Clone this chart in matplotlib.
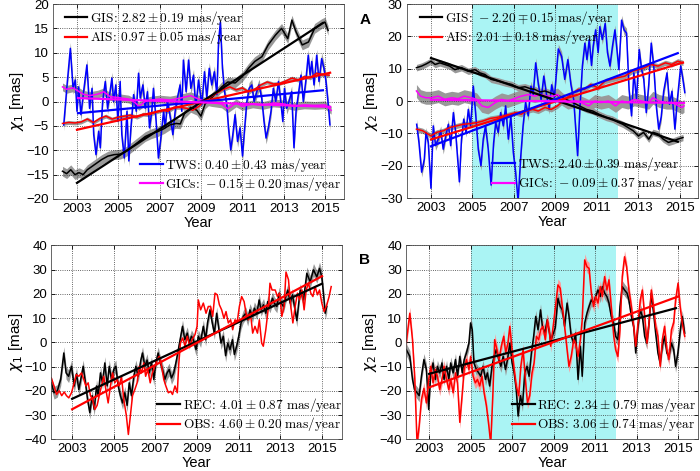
import matplotlib.pyplot as plt

plt.rcParams['font.family'] = ['Liberation Sans', 'DejaVu Sans']
plt.rcParams['mathtext.fontset'] = 'cm'

# ---------------- data (year, value) ----------------
# panel 1: chi1 contributions
gis1 = [(2002.3, -14.3), (2002.5, -14.8), (2002.7, -14.0), (2002.9, -15.0), (2003.1, -14.6),
        (2003.3, -15.0), (2003.5, -14.0), (2003.7, -13.4), (2003.9, -12.8), (2004.2, -11.9),
        (2004.5, -11.2), (2004.8, -10.9), (2005.1, -10.8), (2005.4, -10.2), (2005.7, -9.2),
        (2006.0, -8.2), (2006.3, -7.2), (2006.6, -6.6), (2006.9, -6.2), (2007.2, -5.6),
        (2007.5, -4.8), (2007.8, -4.5), (2008.0, -4.6), (2008.2, -2.5), (2008.5, -1.2),
        (2008.8, -1.8), (2009.0, -3.0), (2009.2, -0.5), (2009.5, 0.7), (2009.8, 2.0),
        (2010.0, 3.0), (2010.3, 4.0), (2010.65, 3.8), (2011.0, 5.1), (2011.3, 6.8),
        (2011.6, 8.2), (2011.95, 9.2), (2012.25, 11.6), (2012.6, 13.6), (2012.9, 15.0),
        (2013.2, 12.9), (2013.4, 16.7), (2013.6, 14.3), (2013.9, 11.6), (2014.2, 12.2),
        (2014.5, 15.0), (2014.85, 16.0), (2015.0, 16.3), (2015.15, 14.6)]
ais1 = [(2002.3, -4.5), (2002.6, -4.3), (2002.9, -4.4), (2003.2, -4.2), (2003.5, -3.6),
        (2003.8, -4.3), (2004.1, -3.5), (2004.4, -3.0), (2004.7, -3.6), (2005.0, -3.2),
        (2005.3, -3.0), (2005.6, -2.8), (2005.9, -3.2), (2006.2, -2.6), (2006.5, -2.7),
        (2006.8, -2.2), (2007.1, -1.8), (2007.4, -2.0), (2007.7, -1.2), (2008.0, -1.2),
        (2008.3, -1.4), (2008.6, -1.8), (2008.9, -1.0), (2009.2, 0.3), (2009.5, 1.0),
        (2009.8, 1.8), (2010.1, 2.5), (2010.4, 3.0), (2010.7, 2.4), (2011.0, 2.8),
        (2011.3, 2.0), (2011.6, 2.5), (2011.9, 3.4), (2012.2, 4.0), (2012.5, 3.6),
        (2012.8, 3.7), (2013.1, 4.2), (2013.4, 4.8), (2013.7, 4.4), (2014.0, 5.1),
        (2014.3, 4.9), (2014.6, 5.8), (2014.9, 5.5), (2015.2, 5.4)]
tws1 = [(2002.36, -4.8), (2002.52, 3.4), (2002.68, 10.9), (2002.81, 2.7), (2002.92, 4.4),
        (2003.0, -2.0), (2003.08, 3.0), (2003.19, -2.7), (2003.32, 2.0), (2003.48, 7.5),
        (2003.61, -1.4), (2003.73, 2.7), (2003.81, -6.8), (2003.92, -10.9), (2004.05, -6.1),
        (2004.13, -9.5), (2004.24, 0.0), (2004.37, 4.1), (2004.48, -1.4), (2004.58, 1.4),
        (2004.69, 4.8), (2004.77, 0.0), (2004.88, 3.4), (2004.98, -4.1), (2005.09, 4.1),
        (2005.17, -6.8), (2005.29, -11.6), (2005.42, -2.0), (2005.51, -12.2), (2005.61, -5.4),
        (2005.74, 1.4), (2005.87, -2.0), (2005.98, 5.8), (2006.06, 0.7), (2006.19, 3.4),
        (2006.3, -1.4), (2006.41, 2.0), (2006.51, -5.4), (2006.62, -2.0), (2006.7, 2.7),
        (2006.83, -4.1), (2006.94, -11.6), (2007.06, -7.5), (2007.19, -2.0), (2007.27, -5.4),
        (2007.38, 0.0), (2007.51, -3.1), (2007.64, -6.8), (2007.75, -2.0), (2007.86, 0.7),
        (2007.99, 3.4), (2008.07, -2.0), (2008.15, 8.5), (2008.28, 2.0), (2008.4, 8.5),
        (2008.51, 2.7), (2008.64, 5.4), (2008.75, -1.4), (2008.88, 4.4), (2009.04, -0.7),
        (2009.17, 6.1), (2009.28, 0.7), (2009.4, 6.8), (2009.52, 3.4), (2009.65, 6.1),
        (2009.77, 1.4), (2009.85, 12.2), (2009.94, 16.3), (2010.04, 6.8), (2010.14, 2.0),
        (2010.25, -0.7), (2010.33, -5.4), (2010.44, -9.9), (2010.54, -6.8), (2010.65, -2.7),
        (2010.77, -8.2), (2010.89, -5.4), (2011.01, -11.2), (2011.1, -6.1), (2011.22, 0.0),
        (2011.33, 2.7), (2011.46, 3.4), (2011.57, 0.0), (2011.7, 2.0), (2011.81, 3.4),
        (2011.94, 0.7), (2012.05, -4.1), (2012.15, -7.5), (2012.26, -5.4), (2012.39, -2.0),
        (2012.5, 2.7), (2012.62, 0.0), (2012.75, 4.1), (2012.86, 0.0), (2012.96, -4.1),
        (2013.04, 2.7), (2013.15, -1.4), (2013.26, 0.0), (2013.39, 2.0), (2013.5, -9.5),
        (2013.6, -2.0), (2013.71, 1.4), (2013.84, 5.4), (2013.95, 0.0), (2014.07, 4.1),
        (2014.19, 9.5), (2014.28, 5.4), (2014.36, 8.2), (2014.47, 3.4), (2014.6, 9.5),
        (2014.71, 4.1), (2014.84, 8.8), (2014.95, 6.8), (2015.05, 4.1), (2015.16, -0.7),
        (2015.24, -4.8)]
gic1 = [(2002.3, 3.0), (2002.5, 2.5), (2002.8, 2.8), (2003.0, 2.3), (2003.3, 1.5),
        (2003.6, 1.2), (2004.0, 1.5), (2004.3, 2.0), (2004.6, 1.0), (2005.0, 0.8),
        (2005.5, 0.5), (2005.8, -0.2), (2006.0, -1.0), (2006.3, 0.0), (2006.6, 0.3),
        (2007.0, 0.5), (2007.5, 0.3), (2008.0, 0.7), (2008.5, 1.2), (2009.0, 0.3),
        (2009.5, -0.2), (2010.0, -0.5), (2010.3, -1.5), (2010.7, -0.3), (2011.0, -1.0),
        (2011.5, -0.5), (2012.0, -0.8), (2012.5, -0.3), (2013.0, -0.5), (2013.5, -1.0),
        (2014.0, -0.7), (2014.5, -0.8), (2015.0, -0.7), (2015.3, -1.8)]

# panel 2: chi2 contributions
gis2 = [(2002.3, 10.3), (2002.55, 10.8), (2002.78, 11.5), (2003.0, 12.3), (2003.2, 11.3),
        (2003.43, 11.8), (2003.67, 11.3), (2003.9, 10.8), (2004.15, 9.7), (2004.47, 10.3),
        (2004.8, 9.2), (2005.12, 9.7), (2005.36, 8.7), (2005.6, 8.2), (2005.9, 6.7),
        (2006.24, 6.2), (2006.56, 5.6), (2006.9, 5.1), (2007.2, 4.1), (2007.53, 4.4),
        (2007.8, 3.8), (2008.0, 3.6), (2008.25, 2.8), (2008.5, 3.1), (2008.8, 2.4),
        (2009.2, 1.5), (2009.5, 0.5), (2009.85, -0.5), (2010.15, -1.5), (2010.5, -2.6),
        (2010.8, -3.1), (2011.1, -4.1), (2011.45, -5.1), (2011.75, -5.6), (2012.0, -6.5),
        (2012.25, -7.2), (2012.5, -8.2), (2012.75, -9.2), (2013.0, -10.8), (2013.25, -9.7),
        (2013.5, -11.8), (2013.7, -9.7), (2013.95, -10.2), (2014.2, -11.8), (2014.45, -12.8),
        (2014.7, -12.3), (2014.9, -11.8), (2015.15, -11.3)]
ais2 = [(2002.3, -8.7), (2002.6, -9.2), (2003.0, -10.8), (2003.27, -9.7), (2003.6, -9.2),
        (2003.9, -8.2), (2004.23, -7.7), (2004.55, -7.2), (2004.87, -7.0), (2005.2, -6.7),
        (2005.5, -6.2), (2005.85, -5.4), (2006.15, -5.1), (2006.5, -4.6), (2006.8, -4.1),
        (2007.1, -3.6), (2007.35, -4.1), (2007.6, -3.1), (2007.9, -2.6), (2008.17, -3.1),
        (2008.5, -2.0), (2008.8, -2.6), (2009.1, -1.5), (2009.45, 0.5), (2009.75, 2.0),
        (2010.1, 3.6), (2010.4, 3.6), (2010.7, 5.1), (2011.05, 4.1), (2011.4, 6.2),
        (2011.7, 6.7), (2012.0, 7.2), (2012.35, 7.7), (2012.7, 9.2), (2013.0, 9.7),
        (2013.3, 10.3), (2013.6, 11.3), (2013.95, 10.8), (2014.3, 11.8), (2014.6, 11.3),
        (2014.9, 12.3), (2015.15, 11.8)]
tws2 = [(2002.31, -7.2), (2002.42, -12.8), (2002.55, -22.0), (2002.68, -18.0), (2002.76, -9.7),
        (2002.87, -12.8), (2003.0, -27.0), (2003.11, -7.7), (2003.22, -13.8), (2003.35, -11.8),
        (2003.47, -9.2), (2003.59, -14.9), (2003.71, -10.8), (2003.84, -7.2), (2003.95, -13.8),
        (2004.08, -3.6), (2004.19, -9.7), (2004.37, -25.0), (2004.47, -12.0), (2004.58, -5.6),
        (2004.69, -9.7), (2004.8, -2.6), (2004.91, -7.7), (2005.04, 4.6), (2005.15, -3.6),
        (2005.28, -14.9), (2005.41, -20.0), (2005.52, -11.8), (2005.63, -7.7), (2005.76, -14.9),
        (2005.9, -26.0), (2006.02, -13.0), (2006.12, -6.7), (2006.24, -9.7), (2006.36, -3.6),
        (2006.49, -7.7), (2006.6, -1.5), (2006.73, -11.8), (2006.85, -4.6), (2006.97, -15.9),
        (2007.08, -22.0), (2007.2, -31.0), (2007.33, -17.0), (2007.44, -7.7), (2007.56, -0.5),
        (2007.69, -4.6), (2007.82, 4.6), (2007.93, 2.0), (2008.05, 11.8), (2008.18, 5.0),
        (2008.31, 0.5), (2008.44, 7.7), (2008.57, 2.0), (2008.7, -2.6), (2008.82, 5.0),
        (2008.95, 1.0), (2009.14, 16.1), (2009.3, 13.8), (2009.45, 6.7), (2009.6, 12.8),
        (2009.75, 5.0), (2009.88, 0.5), (2010.07, -16.9), (2010.18, -2.5), (2010.3, 10.8),
        (2010.42, 17.9), (2010.52, 12.8), (2010.63, 19.0), (2010.74, 11.0), (2010.82, 16.9),
        (2010.94, 22.0), (2011.06, 15.0), (2011.14, 23.0), (2011.26, 19.0), (2011.4, 24.0),
        (2011.51, 15.0), (2011.63, 10.8), (2011.75, 16.9), (2011.87, 22.0), (2011.95, 16.9),
        (2012.06, 9.7), (2012.19, 25.0), (2012.31, 22.0), (2012.43, 21.0), (2012.55, 3.6),
        (2012.67, -4.6), (2012.78, 8.7), (2012.91, 0.5), (2013.04, 15.9), (2013.15, 10.0),
        (2013.26, 6.7), (2013.38, -3.6), (2013.5, 5.0), (2013.62, 17.9), (2013.74, 10.8),
        (2013.87, -2.0), (2013.98, -8.7), (2014.1, -5.0), (2014.22, 3.0), (2014.38, 8.7),
        (2014.5, -1.0), (2014.62, 3.0), (2014.76, -8.7), (2014.88, 0.5), (2015.04, 10.8),
        (2015.14, 7.0), (2015.24, 2.6)]
gic2 = [(2002.3, 3.1), (2002.5, 1.5), (2002.75, 1.0), (2003.0, 1.0), (2003.35, 1.5),
        (2003.67, 0.5), (2004.0, 1.0), (2004.3, 0.7), (2004.6, 1.5), (2004.95, 1.0),
        (2005.2, 0.5), (2005.45, -1.5), (2005.75, -2.0), (2006.1, -0.5), (2006.4, 0.5),
        (2006.7, 0.0), (2007.0, 0.7), (2007.35, 1.5), (2007.7, 2.0), (2008.0, 1.5),
        (2008.3, 2.0), (2008.6, 1.5), (2008.9, 1.5), (2009.1, 2.0), (2009.35, 0.5),
        (2009.6, -0.5), (2009.95, 0.0), (2010.25, -0.5), (2010.6, -1.5), (2010.9, 0.0),
        (2011.2, -0.5), (2011.55, 0.0), (2011.9, -1.5), (2012.2, 0.0), (2012.5, -0.5),
        (2012.8, 0.5), (2013.15, 0.0), (2013.5, -0.5), (2013.7, 1.0), (2014.0, 0.0),
        (2014.35, -0.5), (2014.6, -0.5), (2014.8, -1.0), (2015.1, -2.0), (2015.2, -1.5)]

# panel 3: chi1 reconstructed vs observed
rec3 = [(2002.0, -16.7), (2002.13, -20.8), (2002.29, -20.0), (2002.45, -15.3), (2002.6, -4.4),
        (2002.71, -12.6), (2002.83, -14.0), (2002.97, -9.9), (2003.1, -18.0), (2003.21, -13.0),
        (2003.32, -19.5), (2003.42, -15.0), (2003.53, -9.9), (2003.64, -16.7), (2003.74, -23.6),
        (2003.85, -29.0), (2003.96, -22.0), (2004.06, -27.7), (2004.17, -18.0), (2004.25, -22.0),
        (2004.36, -12.6), (2004.46, -16.7), (2004.57, -8.5), (2004.68, -18.0), (2004.78, -9.9),
        (2004.89, -15.3), (2005.0, -11.2), (2005.1, -9.9), (2005.21, -18.0), (2005.32, -22.0),
        (2005.42, -25.0), (2005.53, -20.8), (2005.64, -26.0), (2005.74, -16.7), (2005.85, -22.0),
        (2005.96, -14.0), (2006.06, -9.9), (2006.17, -14.0), (2006.3, -7.3), (2006.38, -4.4),
        (2006.49, -9.9), (2006.6, -7.3), (2006.7, -12.6), (2006.81, -8.5), (2006.92, -15.3),
        (2007.02, -8.5), (2007.13, -4.4), (2007.24, -8.5), (2007.34, -11.2), (2007.45, -15.3),
        (2007.56, -12.6), (2007.66, -11.2), (2007.77, -14.7), (2007.88, -12.6), (2008.01, -7.3),
        (2008.1, -3.0), (2008.2, 1.8), (2008.3, 6.6), (2008.41, 1.1), (2008.53, 3.8),
        (2008.62, -0.3), (2008.73, 2.5), (2008.82, 1.1), (2008.95, -3.0), (2009.06, 2.5),
        (2009.17, 0.5), (2009.3, 6.6), (2009.41, 1.1), (2009.5, 8.0), (2009.62, 13.4),
        (2009.73, 8.0), (2009.83, 3.8), (2009.94, 12.0), (2010.05, 5.2), (2010.15, -0.3),
        (2010.26, 2.5), (2010.37, -5.5), (2010.47, -0.3), (2010.58, -3.0), (2010.7, 1.1),
        (2010.79, -5.0), (2010.9, -1.6), (2011.0, 2.5), (2011.11, 8.0), (2011.22, 10.7),
        (2011.34, 12.0), (2011.43, 9.3), (2011.54, 13.4), (2011.66, 10.7), (2011.75, 14.1),
        (2011.87, 12.0), (2011.98, 17.5), (2012.07, 13.4), (2012.19, 15.5), (2012.3, 12.0),
        (2012.39, 16.8), (2012.5, 14.8), (2012.62, 18.2), (2012.71, 16.2), (2012.83, 14.8),
        (2012.94, 20.3), (2013.03, 16.2), (2013.15, 14.8), (2013.26, 18.9), (2013.36, 21.6),
        (2013.47, 16.2), (2013.58, 19.6), (2013.79, 9.0), (2013.95, 21.6), (2014.11, 17.5),
        (2014.27, 28.5), (2014.43, 25.0), (2014.59, 29.9), (2014.75, 27.0), (2014.88, 30.5),
        (2014.99, 27.0), (2015.07, 20.0), (2015.15, 12.0), (2015.23, 14.8)]
obs3 = [(2002.0, -14.7), (2002.13, -18.0), (2002.25, -21.5), (2002.38, -20.0), (2002.5, -22.0),
        (2002.62, -20.5), (2002.73, -22.0), (2002.84, -22.9), (2002.97, -20.8), (2003.1, -16.7),
        (2003.2, -13.3), (2003.32, -14.0), (2003.45, -12.6), (2003.56, -15.3), (2003.66, -18.0),
        (2003.77, -16.7), (2003.88, -22.0), (2003.98, -23.6), (2004.09, -27.7), (2004.2, -26.0),
        (2004.3, -22.0), (2004.41, -18.0), (2004.52, -14.0), (2004.62, -19.5), (2004.73, -25.0),
        (2004.84, -18.0), (2004.94, -12.6), (2005.05, -16.7), (2005.16, -15.3), (2005.26, -18.0),
        (2005.37, -14.0), (2005.48, -23.6), (2005.6, -30.0), (2005.7, -38.0), (2005.8, -30.0),
        (2005.9, -22.0), (2006.01, -19.5), (2006.12, -16.7), (2006.22, -9.9), (2006.33, -12.6),
        (2006.44, -8.5), (2006.53, -14.0), (2006.63, -11.2), (2006.75, -16.7), (2006.85, -12.6),
        (2006.97, -9.9), (2007.09, -7.1), (2007.18, -5.8), (2007.3, -9.9), (2007.4, -15.3),
        (2007.5, -18.0), (2007.62, -20.8), (2007.73, -20.2), (2007.82, -21.5), (2007.94, -18.0),
        (2008.05, -20.8), (2008.12, -9.0), (2008.2, -0.3), (2008.31, 1.8), (2008.42, -1.6),
        (2008.53, 2.5), (2008.65, -1.6), (2008.76, 1.1), (2008.9, 3.2), (2009.0, 6.6),
        (2009.06, 17.5), (2009.17, 13.4), (2009.3, 16.2), (2009.43, 12.0), (2009.54, 14.8),
        (2009.65, 14.8), (2009.75, 10.7), (2009.86, 20.3), (2009.97, 19.6), (2010.07, 15.5),
        (2010.18, 13.4), (2010.29, 9.9), (2010.39, 12.7), (2010.5, 8.0), (2010.61, 9.3),
        (2010.71, 5.2), (2010.82, 9.3), (2010.93, 8.6), (2011.03, 14.8), (2011.14, 18.9),
        (2011.26, 16.8), (2011.35, 12.0), (2011.46, 9.3), (2011.58, 10.7), (2011.67, 3.8),
        (2011.78, 6.6), (2011.9, 3.8), (2011.99, 9.3), (2012.1, -0.3), (2012.18, -1.6),
        (2012.3, 5.2), (2012.43, 14.8), (2012.5, 24.4), (2012.6, 21.6), (2012.75, 21.6),
        (2012.86, 18.9), (2012.96, 20.3), (2013.07, 10.7), (2013.18, 14.8), (2013.27, 29.0),
        (2013.39, 25.8), (2013.5, 14.8), (2013.6, 8.0), (2013.71, 14.8), (2013.82, 20.3),
        (2013.92, 17.5), (2014.03, 21.6), (2014.14, 13.4), (2014.24, 21.6), (2014.35, 24.4),
        (2014.46, 20.3), (2014.56, 18.9), (2014.67, 23.0), (2014.78, 19.6), (2014.88, 21.6),
        (2014.99, 16.2), (2015.1, 12.7), (2015.23, 15.5), (2015.34, 18.9), (2015.44, 23.0)]

# panel 4: chi2 reconstructed vs observed
rec4 = [(2001.9, -3.0), (2002.07, -5.8), (2002.2, -15.3), (2002.3, -19.5), (2002.42, -20.8),
        (2002.52, -22.0), (2002.63, -14.0), (2002.75, -7.1), (2002.87, -11.2), (2002.98, -27.7),
        (2003.08, -12.6), (2003.19, -8.5), (2003.3, -15.3), (2003.4, -9.9), (2003.51, -12.6),
        (2003.62, -8.5), (2003.72, -15.3), (2003.84, -9.9), (2003.95, -15.3), (2004.04, -8.5),
        (2004.16, -12.6), (2004.27, -7.1), (2004.37, -14.0), (2004.48, -5.8), (2004.6, -12.6),
        (2004.69, -7.1), (2004.8, -4.4), (2004.92, -0.3), (2005.0, 8.0), (2005.08, 5.2),
        (2005.16, -8.5), (2005.28, -11.2), (2005.39, -12.6), (2005.49, -14.0), (2005.6, -9.9),
        (2005.72, -15.3), (2005.81, -12.6), (2005.92, -18.0), (2006.03, -9.9), (2006.13, -5.8),
        (2006.24, -3.0), (2006.36, -7.1), (2006.46, -9.9), (2006.57, -5.8), (2006.68, -11.2),
        (2006.78, -7.1), (2006.89, -0.3), (2007.0, -8.5), (2007.1, -12.6), (2007.2, -19.5),
        (2007.29, -30.4), (2007.4, -22.0), (2007.5, -26.0), (2007.61, -12.6), (2007.72, -9.9),
        (2007.82, -14.0), (2007.93, -4.4), (2008.04, 2.5), (2008.14, 10.7), (2008.25, 5.2),
        (2008.37, 13.4), (2008.46, 6.6), (2008.58, 3.8), (2008.69, 9.3), (2008.8, 4.0),
        (2008.86, 0.5), (2008.97, 3.3), (2009.08, 6.0), (2009.21, 18.2), (2009.32, 14.8),
        (2009.42, 13.4), (2009.53, 6.6), (2009.65, 16.2), (2009.74, 11.0), (2009.85, 2.5),
        (2009.97, -0.3), (2010.06, 3.8), (2010.18, -15.3), (2010.29, -1.6), (2010.38, -14.0),
        (2010.5, 8.0), (2010.61, 12.0), (2010.71, 14.8), (2010.82, 17.5), (2010.93, 16.2),
        (2011.03, 18.9), (2011.14, 21.6), (2011.25, 18.9), (2011.35, 23.0), (2011.46, 20.3),
        (2011.57, 18.9), (2011.67, 16.2), (2011.78, 10.7), (2011.89, 8.0), (2011.99, 2.5),
        (2012.1, 1.1), (2012.2, 14.8), (2012.31, 23.0), (2012.42, 21.6), (2012.54, 20.3),
        (2012.63, 17.5), (2012.75, 10.7), (2012.86, 6.6), (2012.96, -4.4), (2013.07, 6.6),
        (2013.18, 13.4), (2013.28, 10.7), (2013.39, 2.5), (2013.5, -0.3), (2013.6, 8.0),
        (2013.71, 20.3), (2013.82, 12.0), (2013.92, 3.8), (2014.03, -4.4), (2014.14, -8.5),
        (2014.24, -1.6), (2014.35, 2.5), (2014.46, -4.4), (2014.56, -5.8), (2014.68, -0.3),
        (2014.79, -3.0), (2014.88, -9.9), (2014.99, -4.4), (2015.11, 5.2), (2015.2, 10.7),
        (2015.32, 3.8)]
obs4 = [(2001.9, 0.0), (2002.07, 12.0), (2002.2, 1.0), (2002.31, -15.0), (2002.42, -42.0),
        (2002.52, -34.5), (2002.63, -23.6), (2002.75, -19.0), (2002.87, -25.0), (2002.98, -15.3),
        (2003.08, -9.9), (2003.19, -16.7), (2003.3, -11.2), (2003.4, -14.0), (2003.51, -19.5),
        (2003.62, -15.3), (2003.72, -9.9), (2003.84, -15.3), (2003.95, -19.5), (2004.04, -15.3),
        (2004.16, -20.8), (2004.27, -12.6), (2004.37, -16.7), (2004.48, -33.0), (2004.6, -20.8),
        (2004.69, -11.2), (2004.8, -7.1), (2004.92, -11.2), (2005.0, -5.8), (2005.12, -14.0),
        (2005.23, -16.7), (2005.33, -15.3), (2005.44, -18.0), (2005.55, -14.0), (2005.65, -20.8),
        (2005.76, -26.0), (2005.88, -34.5), (2005.97, -42.0), (2006.08, -20.0), (2006.16, 1.1),
        (2006.27, -3.0), (2006.37, -7.1), (2006.48, -1.6), (2006.6, 2.5), (2006.69, -4.4),
        (2006.8, -0.3), (2006.89, 6.6), (2007.0, -3.0), (2007.1, -11.2), (2007.2, -18.0),
        (2007.32, -22.0), (2007.42, -9.9), (2007.53, -3.0), (2007.64, -15.3), (2007.74, -25.0),
        (2007.85, -22.0), (2007.96, -12.6), (2008.06, -8.5), (2008.17, 2.5), (2008.28, 1.1),
        (2008.38, 5.2), (2008.49, 6.6), (2008.6, 1.1), (2008.7, 9.3), (2008.79, 5.0),
        (2008.86, -1.6), (2009.0, 8.0), (2009.21, 23.7), (2009.32, 22.3), (2009.42, 14.8),
        (2009.53, 6.6), (2009.65, -3.0), (2009.74, -9.9), (2009.85, -5.8), (2009.97, 1.1),
        (2010.06, -0.3), (2010.18, -5.8), (2010.29, 1.1), (2010.38, 9.3), (2010.5, 34.0),
        (2010.61, 31.2), (2010.71, 30.5), (2010.82, 20.3), (2010.93, 14.8), (2011.03, 18.9),
        (2011.14, 16.2), (2011.25, 23.0), (2011.35, 18.9), (2011.46, 27.1), (2011.57, 21.6),
        (2011.67, 25.8), (2011.78, 14.8), (2011.9, 2.5), (2011.99, -3.0), (2012.1, -5.8),
        (2012.2, 5.2), (2012.31, 27.1), (2012.42, 35.3), (2012.52, 31.2), (2012.63, 21.6),
        (2012.75, 14.8), (2012.86, 6.6), (2012.96, -1.6), (2013.07, 8.0), (2013.18, 17.5),
        (2013.28, 21.6), (2013.39, 10.7), (2013.5, -0.3), (2013.6, 8.0), (2013.71, 21.6),
        (2013.82, 14.8), (2013.92, 6.6), (2014.03, 2.5), (2014.14, -9.9), (2014.24, 1.1),
        (2014.35, 6.6), (2014.46, -3.0), (2014.56, -7.1), (2014.68, 5.2), (2014.79, 8.0),
        (2014.88, 17.5), (2015.0, 24.4), (2015.1, 14.8), (2015.2, 8.0), (2015.32, 2.5)]

# linear trends: (start year, end year), (start value, end value)
gis1_fit = ([2003.0, 2014.9], [-16.7, 16.1])
ais1_fit = ([2003.0, 2015.25], [-5.8, 5.9])
tws1_fit = ([2003.05, 2014.9], [-2.4, 2.3])
gic1_fit = ([2003.05, 2015.25], [0.7, -1.1])
gis2_fit = ([2003.0, 2014.9], [13.3, -12.6])
ais2_fit = ([2003.0, 2015.15], [-11.9, 11.9])
tws2_fit = ([2003.0, 2014.9], [-14.0, 14.8])
gic2_fit = ([2003.0, 2015.2], [0.4, -0.6])
rec3_fit = ([2003.0, 2015.0], [-23.3, 24.2])
obs3_fit = ([2003.0, 2015.0], [-27.6, 27.3])
rec4_fit = ([2003.0, 2014.9], [-13.0, 14.1])
obs4_fit = ([2003.0, 2015.0], [-18.6, 18.9])

# uncertainty half widths for the shaded bands
gis1_err, ais1_err, tws1_err, gic1_err = 1.0, 0.4, 1.2, 0.8
gis2_err, ais2_err, tws2_err, gic2_err = 1.0, 0.8, 1.5, 2.0
rec3_err = 2.6
rec4_err, obs4_err = 2.5, 2.5

labels1 = [r'$\mathrm{GIS}\!:\,2.82 \pm 0.19\ \mathrm{mas/year}$',
           r'$\mathrm{AIS}\!:\,0.97 \pm 0.05\ \mathrm{mas/year}$',
           r'$\mathrm{TWS}\!:\,0.40 \pm 0.43\ \mathrm{mas/year}$',
           r'$\mathrm{GICs}\!:\,-0.15 \pm 0.20\ \mathrm{mas/year}$']
labels2 = [r'$\mathrm{GIS}\!:\,-2.20 \mp 0.15\ \mathrm{mas/year}$',
           r'$\mathrm{AIS}\!:\,2.01 \pm 0.18\ \mathrm{mas/year}$',
           r'$\mathrm{TWS}\!:\,2.40 \pm 0.39\ \mathrm{mas/year}$',
           r'$\mathrm{GICs}\!:\,-0.09 \pm 0.37\ \mathrm{mas/year}$']
labels3 = [r'$\mathrm{REC}\!:\,4.01 \pm 0.87\ \mathrm{mas/year}$',
           r'$\mathrm{OBS}\!:\,4.60 \pm 0.20\ \mathrm{mas/year}$']
labels4 = [r'$\mathrm{REC}\!:\,2.34 \pm 0.79\ \mathrm{mas/year}$',
           r'$\mathrm{OBS}\!:\,3.06 \pm 0.74\ \mathrm{mas/year}$']

year_ticks = [2003, 2005, 2007, 2009, 2011, 2013, 2015]
year_labels = ['2003', '2005', '2007', '2009', '2011', '2013', '2015']
span_years = (2005, 2012)

BLUE = '#0000ff'
MAG = '#ff00ff'
RED = '#ff0000'
BAND = '#999999'


def series(ax, pts, err, color, band=BAND):
    t = [p[0] for p in pts]
    v = [p[1] for p in pts]
    lo = [x - err for x in v]
    hi = [x + err for x in v]
    ax.fill_between(t, lo, hi, color=band, lw=0, zorder=1.2)
    ax.plot(t, v, color=color, lw=1.1, zorder=2)


def trend(ax, fit, color):
    ln, = ax.plot(fit[0], fit[1], color=color, lw=1.6, zorder=3)
    return ln


def style(ax, xlim, ylim, yticks, ylabel):
    ax.set_xlim(xlim)
    ax.set_ylim(ylim)
    ax.set_xticks(year_ticks)
    ax.set_xticklabels(year_labels)
    ax.set_yticks(yticks)
    ax.grid(True, ls=':', color='0.2', lw=0.6)
    ax.tick_params(direction='in', top=True, right=True, length=3, width=0.6,
                   labelsize=9.5, pad=3)
    ax.set_xlabel('Year', fontsize=10.5, labelpad=0.5)
    ax.set_ylabel(ylabel, fontsize=11, labelpad=0, math_fontfamily='dejavusans')
    for s in ax.spines.values():
        s.set_linewidth(0.6)
        s.set_color('0.3')


def legend(ax, handles, labels, loc, anchor):
    leg = ax.legend(handles, labels, loc=loc, bbox_to_anchor=anchor, frameon=False,
                    fontsize=9.6, handlelength=1.7, handletextpad=0.2, labelspacing=0.1,
                    borderpad=0, borderaxespad=0)
    leg.set_zorder(5)
    return leg


fig = plt.figure(figsize=(7, 4.71), dpi=100)
ax1 = fig.add_axes([0.0757, 0.5775, 0.4157, 0.414])
ax2 = fig.add_axes([0.581, 0.5796, 0.416, 0.4119])
ax3 = fig.add_axes([0.0733, 0.0673, 0.4153, 0.4117])
ax4 = fig.add_axes([0.5804, 0.0673, 0.4167, 0.4117])

# panel 1
series(ax1, tws1, tws1_err, BLUE)
series(ax1, gis1, gis1_err, 'k')
series(ax1, ais1, ais1_err, RED)
series(ax1, gic1, gic1_err, MAG)
h = [trend(ax1, gis1_fit, 'k'), trend(ax1, ais1_fit, RED),
     trend(ax1, tws1_fit, BLUE), trend(ax1, gic1_fit, MAG)]
style(ax1, (2001.84, 2015.92), (-20, 20), range(-20, 21, 5), r'$\chi_1$ [mas]')
l1 = legend(ax1, h[:2], labels1[:2], 'upper left', (0.04, 0.975))
ax1.add_artist(l1)
legend(ax1, h[2:], labels1[2:], 'lower right', (0.99, 0.03))

# panel 2
ax2.axvspan(*span_years, color='#aaf4f4', lw=0, zorder=0.5)
series(ax2, tws2, tws2_err, BLUE)
series(ax2, gis2, gis2_err, 'k')
series(ax2, ais2, ais2_err, RED)
series(ax2, gic2, gic2_err, MAG)
h = [trend(ax2, gis2_fit, 'k'), trend(ax2, ais2_fit, RED),
     trend(ax2, tws2_fit, BLUE), trend(ax2, gic2_fit, MAG)]
style(ax2, (2001.83, 2015.87), (-30, 30), range(-30, 31, 10), r'$\chi_2$ [mas]')
l2 = legend(ax2, h[:2], labels2[:2], 'upper left', (0.045, 0.975))
ax2.add_artist(l2)
legend(ax2, h[2:], labels2[2:], 'lower right', (0.985, 0.03))

# panel 3
series(ax3, rec3, rec3_err, 'k')
t3 = [p[0] for p in obs3]
ax3.plot(t3, [p[1] for p in obs3], color=RED, lw=1.1, zorder=2.1)
h = [trend(ax3, rec3_fit, 'k'), trend(ax3, obs3_fit, RED)]
style(ax3, (2002.0, 2015.96), (-40, 40), range(-40, 41, 10), r'$\chi_1$ [mas]')
legend(ax3, h, labels3, 'lower right', (1.0, 0.03))

# panel 4
ax4.axvspan(*span_years, color='#aaf4f4', lw=0, zorder=0.5)
series(ax4, rec4, rec4_err, 'k')
series(ax4, obs4, obs4_err, RED, band='#ff9a9a')
h = [trend(ax4, rec4_fit, 'k'), trend(ax4, obs4_fit, RED)]
style(ax4, (2001.9, 2015.96), (-40, 40), range(-40, 41, 10), r'$\chi_2$ [mas]')
legend(ax4, h, labels4, 'lower right', (0.995, 0.03))

fig.text(365 / 700, 1 - 20 / 471, 'A', fontsize=11, fontweight='bold', ha='center', va='center')
fig.text(365 / 700, 1 - 260 / 471, 'B', fontsize=11, fontweight='bold', ha='center', va='center')

fig.savefig('out.png', dpi=100)
